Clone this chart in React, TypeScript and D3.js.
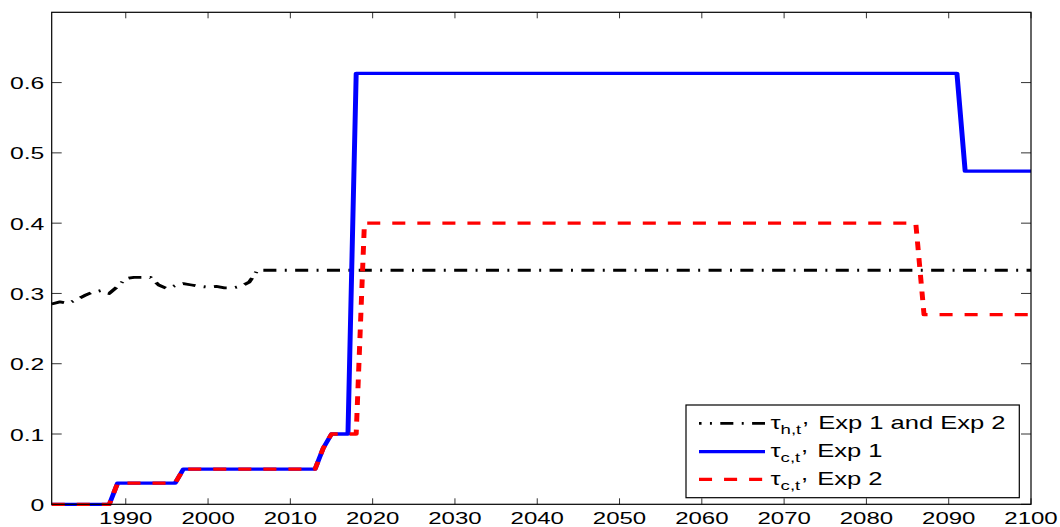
import React from "react";
import * as d3 from "d3";

// Household tax rate (shared by both experiments)
const tauHYears = [1981, 1982, 1983, 1984, 1985, 1986, 1987, 1988, 1989, 1990, 1991, 1992, 1993, 1994, 1995, 1996, 1997, 1998, 1999, 2000, 2001, 2002, 2003, 2004, 2005, 2006, 2100];
const tauHValues = [0.285, 0.288, 0.286, 0.291, 0.297, 0.302, 0.304, 0.300, 0.310, 0.321, 0.323, 0.323, 0.323, 0.312, 0.307, 0.311, 0.314, 0.312, 0.310, 0.309, 0.310, 0.308, 0.308, 0.310, 0.316, 0.333, 0.333];

// Carbon tax rate, experiment 1
const tauC1Years = [1981, 1988, 1989, 1996, 1997, 2013, 2014, 2015, 2017, 2018, 2091, 2092, 2100];
const tauC1Values = [0, 0, 0.03, 0.03, 0.05, 0.05, 0.08, 0.1, 0.1, 0.613, 0.613, 0.474, 0.474];

// Carbon tax rate, experiment 2
const tauC2Years = [1981, 1988, 1989, 1996, 1997, 2013, 2014, 2015, 2018, 2019, 2086, 2087, 2100];
const tauC2Values = [0, 0, 0.03, 0.03, 0.05, 0.05, 0.08, 0.1, 0.1, 0.4, 0.4, 0.27, 0.27];

const xTicks = [1990, 2000, 2010, 2020, 2030, 2040, 2050, 2060, 2070, 2080, 2090, 2100];
const yTicks = [0, 0.1, 0.2, 0.3, 0.4, 0.5, 0.6];

const W = 1060;
const H = 527;
const left = 51.7;
const right = 1031;
const top = 12.3;
const bottom = 504.3;
// the figure is rendered with a wide horizontal aspect: glyphs and pens are stretched
const SX = 1.5;
const SX_TICK = 1.5;
const SX_LEGEND = 1.38;
const FONT = "'Liberation Sans', Arial, Helvetica, sans-serif";

type Pt = { year: number; value: number };
const zip = (ys: number[], vs: number[]): Pt[] => ys.map((y, i) => ({ year: y, value: vs[i] }));

export default function App() {
  const x = d3.scaleLinear().domain([1981, 2100]).range([left, right]);
  const y = d3.scaleLinear().domain([0, 0.7]).range([bottom, top]);

  const line = d3
    .line<Pt>()
    .x((d) => x(d.year) / SX)
    .y((d) => y(d.value));

  const series = [
    { data: zip(tauHYears, tauHValues), color: "#000000", width: 2.8, dash: "8.7,5.6,1.3,5.6" },
    { data: zip(tauC1Years, tauC1Values), color: "#0000ff", width: 3.3, dash: undefined },
    { data: zip(tauC2Years, tauC2Values), color: "#ff0000", width: 3.3, dash: "8.7,8" },
  ];

  const tickLenH = 10;
  const tickLenV = 6;

  const legend = { x0: 686, y0: 405, x1: 1019.3, y1: 497.7 };
  const legendRows = [
    { sub: "h,t", label: " Exp 1 and Exp 2", lineY: 423.3 },
    { sub: "c,t", label: " Exp 1", lineY: 451.7 },
    { sub: "c,t", label: " Exp 2", lineY: 479.3 },
  ];

  return (
    <svg
      width={W}
      height={H}
      style={{ position: "absolute", left: 0, top: 0, background: "#fff" }}
      fontFamily={FONT}
    >
      <rect x={0} y={0} width={W} height={H} fill="#fff" />

      {/* ticks: bottom & top */}
      {xTicks.map((t) => (
        <g key={"xt" + t} stroke="#333" strokeWidth={1}>
          <line x1={x(t)} x2={x(t)} y1={bottom} y2={bottom - tickLenV} />
          <line x1={x(t)} x2={x(t)} y1={top} y2={top + tickLenV} />
        </g>
      ))}
      {/* ticks: left & right */}
      {yTicks.map((t) => (
        <g key={"yt" + t} stroke="#333" strokeWidth={1}>
          <line x1={left} x2={left + tickLenH} y1={y(t)} y2={y(t)} />
          <line x1={right} x2={right - tickLenH} y1={y(t)} y2={y(t)} />
        </g>
      ))}

      {/* data lines */}
      <g transform={`scale(${SX},1)`}>
        {series.map((s, i) => (
          <path
            key={i}
            d={line(s.data) ?? ""}
            fill="none"
            stroke={s.color}
            strokeWidth={s.width}
            strokeDasharray={s.dash}
            strokeLinejoin="round"
          />
        ))}
      </g>

      {/* axes frame */}
      <rect
        x={left}
        y={top}
        width={right - left}
        height={bottom - top}
        fill="none"
        stroke="#000"
        strokeWidth={1.2}
      />

      {/* tick labels */}
      {xTicks.map((t) => (
        <g key={"xl" + t} transform={`translate(${x(t)},${523.5}) scale(${SX_TICK},1)`}>
          <text x={0} y={0} textAnchor="middle" fontSize={16} fill="#000">
            {t}
          </text>
        </g>
      ))}
      {yTicks.map((t) => (
        <g key={"yl" + t} transform={`translate(${44.3},${y(t) + 6.5}) scale(${SX_TICK},1)`}>
          <text x={0} y={0} textAnchor="end" fontSize={16.5} fill="#000">
            {t === 0 ? "0" : t.toFixed(1)}
          </text>
        </g>
      ))}

      {/* legend */}
      <rect
        x={legend.x0}
        y={legend.y0}
        width={legend.x1 - legend.x0}
        height={legend.y1 - legend.y0}
        fill="#fff"
        stroke="#000"
        strokeWidth={1.2}
      />
      <g transform={`scale(${SX},1)`}>
        {legendRows.map((r, i) => (
          <line
            key={"ll" + i}
            x1={699 / SX}
            x2={765 / SX}
            y1={r.lineY}
            y2={r.lineY}
            stroke={series[i].color}
            strokeWidth={i === 0 ? 2.8 : 3.3}
            strokeDasharray={series[i].dash}
            strokeDashoffset={i === 0 ? 7 : 0}
          />
        ))}
      </g>
      {legendRows.map((r, i) => (
        <g key={"lt" + i} transform={`translate(${770.5},${r.lineY + 5.5}) scale(${SX_LEGEND},1)`}>
          <text x={0} y={0} fontSize={18.5} fill="#000">
            τ
            <tspan fontSize={13.5} dy={5}>
              {r.sub}
            </tspan>
            <tspan dy={-10} dx={0.5}>
              ,
            </tspan>
            <tspan dy={5} dx={1.5}>
              {r.label}
            </tspan>
          </text>
        </g>
      ))}
    </svg>
  );
}
